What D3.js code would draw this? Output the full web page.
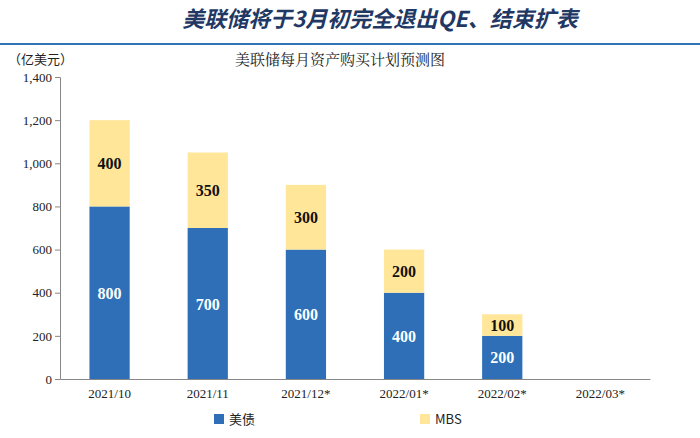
<!DOCTYPE html><html><head><meta charset="utf-8"><script src="https://cdn.jsdelivr.net/npm/d3@7"></script>
<style>body{margin:0;background:#fff}</style></head><body><svg width="700" height="438"></svg><script>
const categories=["2021/10","2021/11","2021/12*","2022/01*","2022/02*","2022/03*"];
const treasury=[800,700,600,400,200,0];
const mbs=[400,350,300,200,100,0];
const yTicks=[0,200,400,600,800,1000,1200,1400];
const svg=d3.select("svg");
const F="'Noto Sans CJK SC',sans-serif";
svg.append("text").attr("x",380).attr("y",27).attr("text-anchor","middle").attr("font-family",F).attr("font-size",22).attr("font-weight","bold").attr("font-style","italic").attr("fill","#1F3864").text("美联储将于3月初完全退出QE、结束扩表");
svg.append("line").attr("x1",0).attr("x2",700).attr("y1",44).attr("y2",44).attr("stroke","#2E75B6").attr("stroke-width",2);
svg.append("text").attr("x",340).attr("y",65).attr("text-anchor","middle").attr("font-family","'Noto Serif CJK SC','Noto Sans CJK SC',serif").attr("font-size",15).attr("fill","#222").text("美联储每月资产购买计划预测图");
svg.append("text").attr("x",8).attr("y",64).attr("font-family",F).attr("font-size",13).attr("fill","#222").text("（亿美元）");
const x=d3.scaleBand().domain(categories).range([60,650]).paddingInner(0.59).paddingOuter(0.3);
const y=d3.scaleLinear().domain([0,1400]).range([379,77]);
const ya=svg.append("g").attr("transform","translate(60,0)").call(d3.axisLeft(y).tickValues(yTicks).tickFormat(d3.format(",")).tickSize(5));
ya.selectAll("text").attr("font-family","'Liberation Serif',serif").attr("font-size",13).attr("fill","#222");
const xa=svg.append("g").attr("transform","translate(0,379)").call(d3.axisBottom(x).tickSize(0).tickPadding(10));
xa.selectAll("text").attr("font-family","'Liberation Serif',serif").attr("font-size",13).attr("fill","#222");
svg.selectAll(".domain,.tick line").attr("stroke","#888");
const blue="#2E6FB7",yel="#FFE699";
categories.forEach((c,i)=>{
 if(treasury[i]>0){
 svg.append("rect").attr("x",x(c)).attr("width",x.bandwidth()).attr("y",y(treasury[i])).attr("height",y(0)-y(treasury[i])).attr("fill",blue);
 svg.append("text").attr("x",x(c)+x.bandwidth()/2).attr("y",(y(treasury[i])+y(0))/2+6).attr("text-anchor","middle").attr("font-family","'Liberation Serif',serif").attr("font-size",16).attr("font-weight","bold").attr("fill","#fff").text(treasury[i]);}
 if(mbs[i]>0){const t=treasury[i]+mbs[i];
 svg.append("rect").attr("x",x(c)).attr("width",x.bandwidth()).attr("y",y(t)).attr("height",y(treasury[i])-y(t)).attr("fill",yel);
 svg.append("text").attr("x",x(c)+x.bandwidth()/2).attr("y",(y(t)+y(treasury[i]))/2+6).attr("text-anchor","middle").attr("font-family","'Liberation Serif',serif").attr("font-size",16).attr("font-weight","bold").attr("fill","#111").text(mbs[i]);}
});
const lg=[["美债",blue,214],["MBS",yel,420]];
lg.forEach(([t,c,lx])=>{svg.append("rect").attr("x",lx).attr("y",414).attr("width",10).attr("height",10).attr("fill",c);
svg.append("text").attr("x",lx+15).attr("y",424).attr("font-family",F).attr("font-size",13).attr("fill","#222").text(t);});
</script></body></html>
